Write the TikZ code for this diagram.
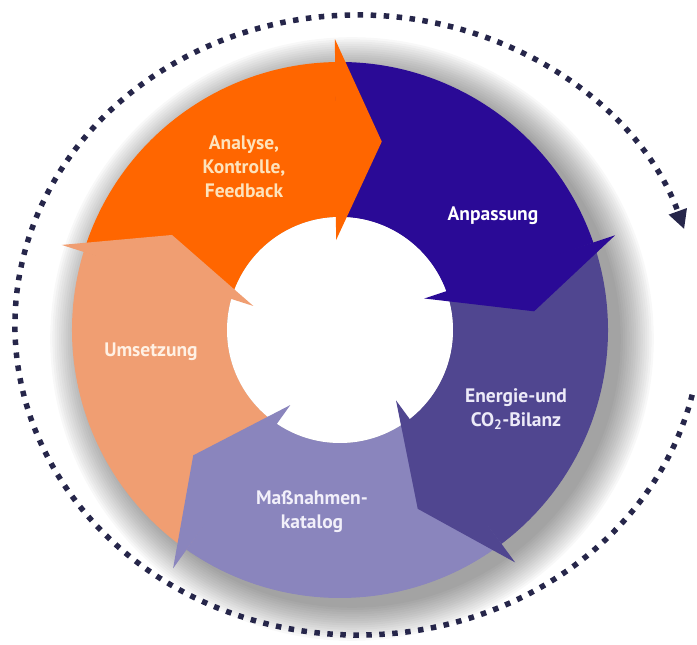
\documentclass[tikz,border=0pt]{standalone}
\usepackage{fontspec}
\setmainfont{PT Sans}
\usepackage{tikz}
\usetikzlibrary{arrows.meta}

\definecolor{segorange}{HTML}{FF6600}
\definecolor{segindigo}{HTML}{2A0A96}
\definecolor{segslate}{HTML}{504690}
\definecolor{seglilac}{HTML}{8A85BD}
\definecolor{segpeach}{HTML}{F09E72}
\definecolor{dotnavy}{HTML}{26264A}
\definecolor{txtcream}{HTML}{FDE3BC}
\definecolor{txtslate}{HTML}{ECEAF8}
\definecolor{txtlilac}{HTML}{F2F0FA}
\definecolor{txtpeach}{HTML}{FFF1E4}

\begin{document}
\begin{tikzpicture}[x=1pt,y=1pt,>={Triangle[length=19pt,width=18pt]},
  segtext/.style={align=center,font=\fontsize{19.5}{24}\selectfont\bfseries},
  dotline/.style={dotnavy,line width=5.5pt,dash pattern=on 5.5pt off 7.5pt}]
\useasboundingbox (-340,-315) rectangle (357,330);
\coordinate (c) at (0,0);
\coordinate (loopc) at (18,5);

% soft shadow under the ring
\foreach \k in {1,...,16}
  \fill[black,opacity=0.026] (12,-9) circle ({304-2.2*\k});

% ring segments (outer r=268, inner r=113)
\fill[segorange] (163:268) arc[start angle=163,end angle=91,radius=268] -- (91:113) arc[start angle=91,end angle=163,radius=113] -- cycle;
\fill[segindigo] (91:268) arc[start angle=91,end angle=19,radius=268] -- (19:113) arc[start angle=19,end angle=91,radius=113] -- cycle;
\fill[segslate] (19:268) arc[start angle=19,end angle=-53,radius=268] -- (-53:113) arc[start angle=-53,end angle=19,radius=113] -- cycle;
\fill[seglilac] (-53:268) arc[start angle=-53,end angle=-125,radius=268] -- (-125:113) arc[start angle=-125,end angle=-53,radius=113] -- cycle;
\fill[segpeach] (-125:268) arc[start angle=-125,end angle=-197,radius=268] -- (-197:113) arc[start angle=-197,end angle=-125,radius=113] -- cycle;
\fill[white] (c) circle (113);

% arrow heads
\fill[segorange] (91:291) -- (77.5:193) -- (92.5:90) -- cycle;
\fill[segindigo] (19:291) -- (5.5:195) -- (20.5:90) -- cycle;
\fill[segslate] (-53:291) -- (-66.5:195) -- (-51.5:90) -- cycle;
\fill[seglilac] (-125:291) -- (-139.5:193) -- (-123.5:90) -- cycle;
\fill[segpeach] (163:291) -- (150.5:193) -- (164.5:90) -- cycle;

% dotted cycle arrow
\draw[dotline,->] (loopc) ++(-13:343 and 310) arc[start angle=-13,end angle=-342,x radius=343,y radius=310];

\node[segtext,text=txtcream] (analyse) at (-96,163) {Analyse,\\Kontrolle,\\Feedback};
\node[segtext,text=white] (anpassung) at (153,114) {Anpassung};
\node[segtext,text=txtslate] (bilanz) at (176,-79) {Energie-und\\CO\textsubscript{2}-Bilanz};
\node[segtext,text=txtlilac] (katalog) at (-28,-182) {Maßnahmen-\\katalog};
\node[segtext,text=txtpeach] (umsetzung) at (-189,-22) {Umsetzung};
\end{tikzpicture}
\end{document}
